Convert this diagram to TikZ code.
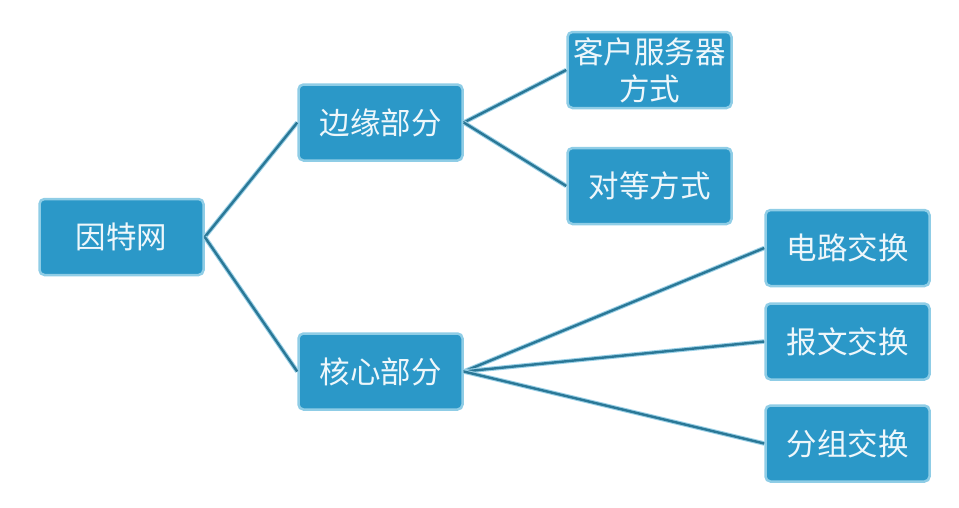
\documentclass[tikz,border=0pt]{standalone}
\usepackage{fontspec}
\newfontfamily\cjk{Noto Sans CJK SC}
\definecolor{boxfill}{HTML}{2B98C8}
\definecolor{boxedge}{HTML}{8FCDE6}
\definecolor{linedark}{HTML}{2A7897}
\definecolor{linelight}{HTML}{9AD0E6}
\definecolor{txt}{HTML}{EEF7FB}
\tikzset{
  box/.style={draw=boxedge, fill=boxfill, line width=2.5pt, rounded corners=5pt,
    minimum width=164pt, minimum height=76pt, inner sep=0pt, align=center,
    text=txt, font=\cjk\fontsize{30.5pt}{37pt}\selectfont},
  conn/.style={draw=linedark, line width=2.4pt, preaction={draw=linelight, line width=4.5pt}}
}
\begin{document}
\begin{tikzpicture}[x=1pt,y=-1pt]
\useasboundingbox (0,0) rectangle (959,507);
\node[box] (inet) at (121.5,237) {因特网};
\node[box] (edge) at (380.5,122.5) {边缘部分};
\node[box] (core) at (380.5,371.5) {核心部分};
\node[box] (cs) at (649.5,70) {客户服务器\\方式};
\node[box] (p2p) at (649.5,186) {对等方式};
\node[box] (circ) at (847.5,248) {电路交换};
\node[box] (msg) at (847.5,341.5) {报文交换};
\node[box] (pkt) at (847.5,443.5) {分组交换};
\draw[conn] (inet.east) -- (edge.west);
\draw[conn] (inet.east) -- (core.west);
\draw[conn] (edge.east) -- (cs.west);
\draw[conn] (edge.east) -- (p2p.west);
\draw[conn] (core.east) -- (circ.west);
\draw[conn] (core.east) -- (msg.west);
\draw[conn] (core.east) -- (pkt.west);
\end{tikzpicture}
\end{document}
